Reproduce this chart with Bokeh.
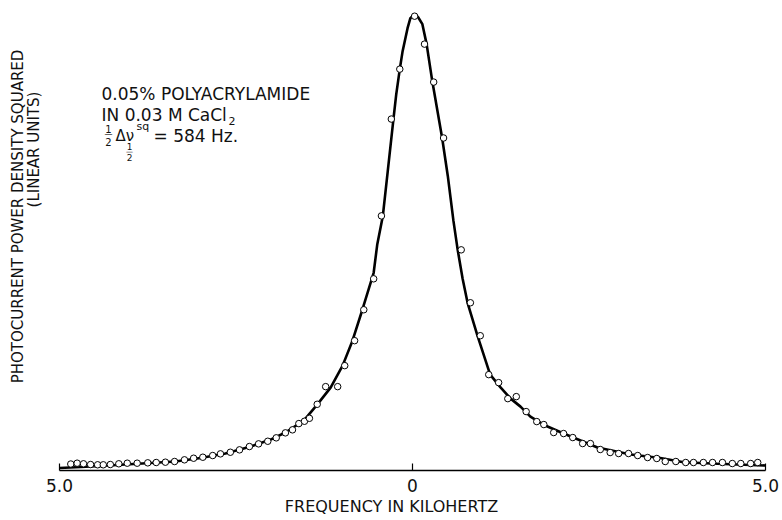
import math
from bokeh.plotting import figure
from bokeh.models import FixedTicker, Label, Range1d
from bokeh.embed import file_html
from bokeh.resources import INLINE

# ---- data (frequency in kHz, power density squared normalised to peak) ----
curve_x = [-5.00, -4.70, -4.42, -4.07, -3.71, -3.36, -3.00, -2.65, -2.29, -2.01,
           -1.80, -1.54, -1.35, -1.16, -0.99, -0.85, -0.71, -0.55, -0.50, -0.42,
           -0.35, -0.27, -0.23, -0.18, -0.14, -0.07, -0.03, 0.03, 0.08, 0.14,
           0.20, 0.28, 0.42, 0.50, 0.58, 0.64, 0.71, 0.78, 0.92, 1.10,
           1.25, 1.39, 1.53, 1.67, 1.88, 2.14, 2.62, 3.09, 3.51, 3.84,
           4.32, 5.00]
curve_y = [0.0055, 0.0077, 0.0098, 0.0131, 0.0164, 0.0197, 0.0274, 0.0372, 0.0525, 0.0678,
           0.0832, 0.1094, 0.1444, 0.1816, 0.2298, 0.2845, 0.3523, 0.4333, 0.4945, 0.5580,
           0.6565, 0.7702, 0.8249, 0.8796, 0.9190, 0.9694, 0.9912, 1.0000, 0.9934, 0.9781,
           0.9344, 0.8534, 0.7287, 0.6455, 0.5470, 0.4836, 0.4201, 0.3676, 0.2954, 0.2101,
           0.1816, 0.1575, 0.1400, 0.1182, 0.0985, 0.0810, 0.0503, 0.0350, 0.0274, 0.0182,
           0.0147, 0.0109]

points_x = [-4.84, -4.75, -4.66, -4.56, -4.46, -4.38, -4.28, -4.16, -4.04, -3.90,
            -3.75, -3.63, -3.50, -3.37, -3.23, -3.10, -2.97, -2.83, -2.72, -2.58,
            -2.45, -2.31, -2.18, -2.05, -1.93, -1.80, -1.70, -1.61, -1.53, -1.46,
            -1.35, -1.23, -1.06, -0.96, -0.82, -0.69, -0.55, -0.44, -0.30, -0.18,
            0.03, 0.17, 0.30, 0.44, 0.69, 0.82, 0.96, 1.08, 1.22, 1.35,
            1.47, 1.61, 1.76, 1.86, 2.00, 2.14, 2.27, 2.41, 2.52, 2.66,
            2.80, 2.92, 3.06, 3.19, 3.33, 3.46, 3.58, 3.73, 3.87, 3.98,
            4.12, 4.25, 4.39, 4.53, 4.65, 4.79, 4.89]
points_y = [0.0142, 0.0160, 0.0147, 0.0131, 0.0125, 0.0125, 0.0131, 0.0147, 0.0160, 0.0160,
            0.0168, 0.0175, 0.0182, 0.0197, 0.0234, 0.0269, 0.0291, 0.0328, 0.0365, 0.0400,
            0.0453, 0.0525, 0.0584, 0.0641, 0.0716, 0.0825, 0.0891, 0.1028, 0.1079, 0.1144,
            0.1451, 0.1838, 0.1838, 0.2298, 0.2845, 0.3523, 0.4201, 0.5580, 0.7702, 0.8796,
            0.9956, 0.9344, 0.8512, 0.7287, 0.4836, 0.3676, 0.2954, 0.2101, 0.1926, 0.1575,
            0.1619, 0.1291, 0.1072, 0.1007, 0.0832, 0.0810, 0.0722, 0.0591, 0.0591, 0.0460,
            0.0394, 0.0372, 0.0372, 0.0328, 0.0284, 0.0263, 0.0197, 0.0197, 0.0175, 0.0175,
            0.0175, 0.0175, 0.0175, 0.0153, 0.0153, 0.0153, 0.0175]

tick_values = [-5, 0, 5]
tick_labels = ["5.0", "0", "5.0"]

FONT = "DejaVu Sans"
INK = "#111111"

# ---- layout (pixels) ----
W, H = 782, 520
BOTTOM = 50
AX_L, AX_R = 59, 765            # pixel positions of -5 and +5 kHz
k = (tick_values[-1] - tick_values[0]) / (AX_R - AX_L)   # kHz per pixel
X0 = tick_values[0] - AX_L * k
X1 = tick_values[-1] + (W - AX_R) * k
Y0, Y1 = 0.0, 1.03

p = figure(width=W, height=H, output_backend="svg", toolbar_location=None,
           x_range=Range1d(X0, X1), y_range=Range1d(Y0, Y1),
           min_border_left=0, min_border_right=0,
           min_border_top=0, min_border_bottom=BOTTOM)
p.background_fill_color = "white"
p.border_fill_color = "white"
p.outline_line_color = None
p.grid.visible = False
p.yaxis.visible = False

xa = p.xaxis[0]
xa.bounds = (tick_values[0], tick_values[-1])
xa.ticker = FixedTicker(ticks=tick_values)
xa.major_label_overrides = {v: s for v, s in zip(tick_values, tick_labels)}
xa.major_tick_in = 7
xa.major_tick_out = 0
xa.minor_tick_line_color = None
xa.axis_line_width = 1.6
xa.axis_line_color = "black"
xa.major_tick_line_color = "black"
xa.major_tick_line_width = 1.2
xa.major_label_text_font = FONT
xa.major_label_text_font_size = "17px"
xa.major_label_text_color = INK
xa.major_label_standoff = 8
xa.axis_label = "FREQUENCY IN KILOHERTZ"
xa.axis_label_text_font = FONT
xa.axis_label_text_font_size = "16px"
xa.axis_label_text_font_style = "normal"
xa.axis_label_text_color = INK
xa.axis_label_standoff = 2

p.line(curve_x, curve_y, line_width=2.6, line_color="black")
p.scatter(points_x, points_y, size=6.5, marker="circle",
          fill_color="white", line_color="black", line_width=1)

# helpers to place annotation text by pixel position
fh = H - BOTTOM
def dx(px):
    return X0 + px * k
def dy(py):
    return Y0 + (fh - py) / fh * (Y1 - Y0)

def lab(px, py, text, size, align="left", angle=0.0):
    p.add_layout(Label(x=dx(px), y=dy(py), text=text, text_font=FONT,
                       text_font_size=f"{size}px", text_align=align,
                       text_baseline="middle", angle=angle,
                       text_color=INK))

# y axis title (two rotated lines)
lab(17, 216, "PHOTOCURRENT POWER DENSITY SQUARED", 15, "center", math.pi / 2)
lab(33, 149, "(LINEAR UNITS)", 15, "center", math.pi / 2)

# sample annotation
lab(101, 93, "0.05% POLYACRYLAMIDE", 17)
lab(101, 114, "IN 0.03 M CaCl", 17)
lab(228, 120, "2", 11)
lab(108, 128, "1", 10, "center")
lab(108, 134, "\u2014", 8, "center")
lab(108, 141, "2", 10, "center")
lab(115, 135, "\u0394\u03bd", 15)
lab(129, 146, "1", 9, "center")
lab(129, 151, "\u2014", 7, "center")
lab(129, 157, "2", 9, "center")
lab(136, 126, "sq", 11)
lab(153, 135, "= 584 Hz.", 17)

open("out.html", "w").write(file_html(p, INLINE))
